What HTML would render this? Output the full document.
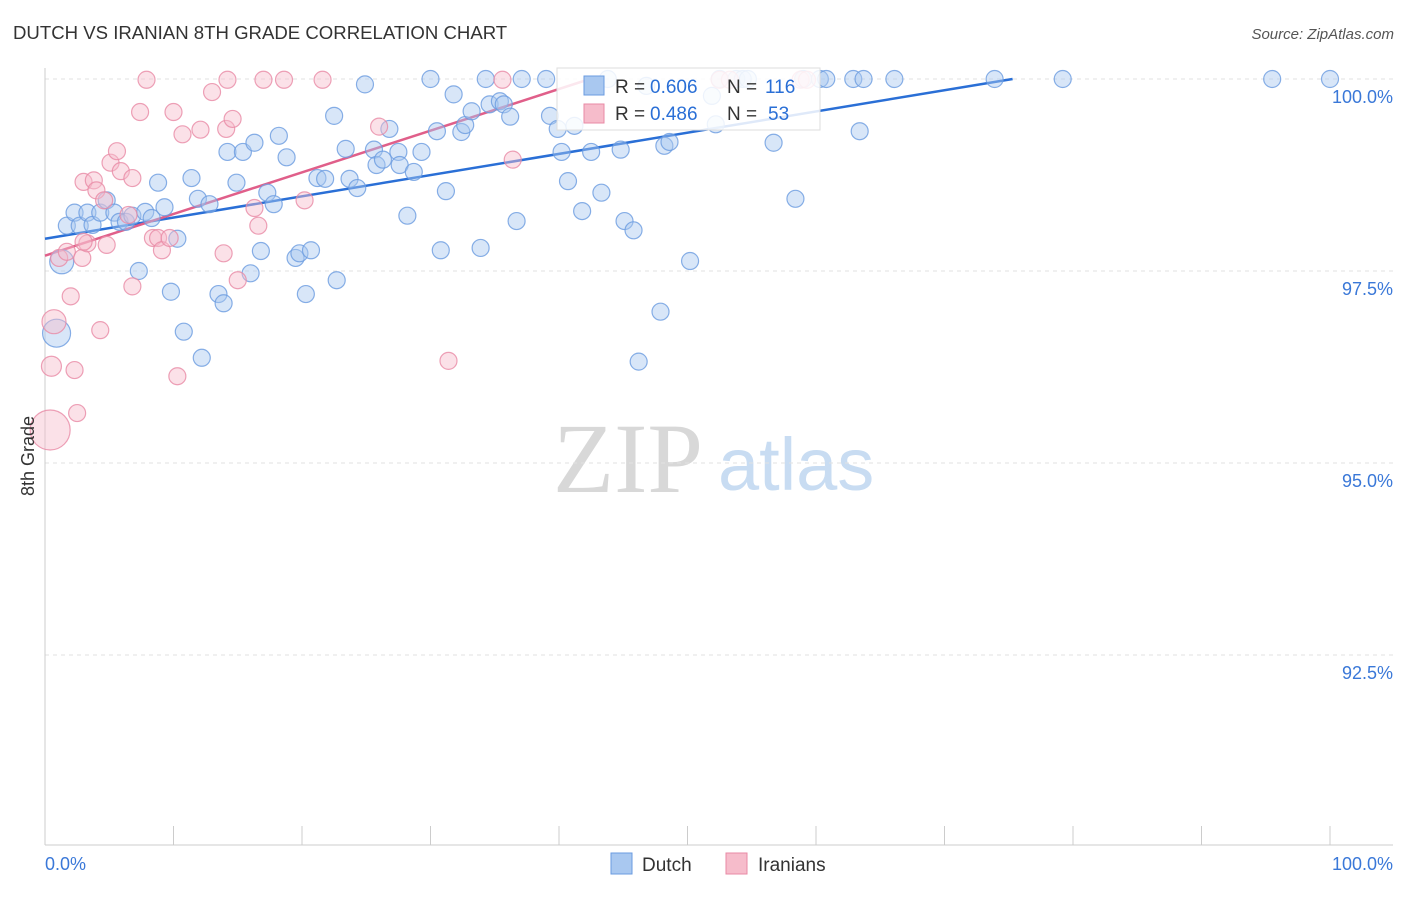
<!DOCTYPE html>
<html><head><meta charset="utf-8"><style>
body{margin:0;background:#fff;font-family:"Liberation Sans",sans-serif;}
svg text{font-family:"Liberation Sans",sans-serif;}
</style></head><body>
<svg id="chart" width="1406" height="892" xmlns="http://www.w3.org/2000/svg">
<text x="13" y="39" font-size="18.6" fill="#333">DUTCH VS IRANIAN 8TH GRADE CORRELATION CHART</text>
<text x="1394" y="39" font-size="15" fill="#555" text-anchor="end" font-style="italic">Source: ZipAtlas.com</text>
<g>
<text x="553" y="492" font-size="100" fill="#d8d8d8" style="font-family:'Liberation Serif',serif">ZIP</text>
<text x="718" y="490" font-size="74" fill="#c8dcf2">atlas</text>
</g>
<g id="grid"></g>
<g id="axes"></g>
<g id="trends"></g>
<g id="points"></g>
<g>
<rect x="557" y="68" width="263" height="62" fill="#fff" fill-opacity="0.85" stroke="#ddd"/>
<rect x="584" y="76" width="20" height="19" fill="#a9c8f0" stroke="#6a9be0"/>
<text x="615" y="93" font-size="19" fill="#333">R = </text><text x="650" y="93" font-size="19" fill="#2a6fd6">0.606</text>
<text x="727" y="93" font-size="19" fill="#333">N = </text><text x="765" y="93" font-size="19" fill="#2a6fd6">116</text>
<rect x="584" y="104" width="20" height="19" fill="#f6bccb" stroke="#e88aa5"/>
<text x="615" y="120" font-size="19" fill="#333">R = </text><text x="650" y="120" font-size="19" fill="#2a6fd6">0.486</text>
<text x="727" y="120" font-size="19" fill="#333">N = </text><text x="768" y="120" font-size="19" fill="#2a6fd6">53</text>
</g>
<g>
<rect x="611" y="853" width="21" height="21" fill="#a9c8f0" stroke="#6a9be0"/>
<text x="642" y="871" font-size="19" fill="#333">Dutch</text></g>
<g>
<rect x="726" y="853" width="21" height="21" fill="#f6bccb" stroke="#e88aa5"/>
<text x="758" y="871" font-size="19" fill="#333">Iranians</text></g>
<text transform="translate(34,456) rotate(-90)" font-size="18" fill="#333" text-anchor="middle">8th Grade</text>
</svg>
<script>
const yTicks=[100,97.5,95,92.5];
const yTickLabels=["100.0%","97.5%","95.0%","92.5%"];
const xTickLabels=["0.0%","100.0%"];
const dutchX=[1.3,0.9,1.7,2.3,2.7,3.3,3.7,4.3,4.8,5.4,5.8,6.3,6.8,7.3,7.8,8.3,8.8,9.3,9.8,10.3,10.8,11.4,11.9,12.2,12.8,13.5,13.9,14.2,14.9,15.4,16.0,16.3,16.8,17.3,17.8,18.2,18.8,19.5,19.8,20.3,20.7,21.2,21.8,22.5,22.7,23.4,23.7,24.3,24.9,25.6,25.8,26.3,26.8,27.5,27.6,28.2,28.7,29.3,30.0,30.5,30.8,31.2,31.8,32.4,32.7,33.2,33.9,34.3,34.6,35.4,35.7,36.2,36.7,37.1,39.0,39.3,39.9,40.2,40.7,41.2,41.8,42.5,43.3,43.8,44.8,45.1,45.8,46.8,47.9,48.2,48.6,50.2,51.9,52.2,52.5,53.8,54.3,54.7,56.7,58.4,59.0,60.3,60.8,62.9,63.4,63.7,66.1,73.9,79.2,95.5,100,46.2];
const dutchY=[97.62,96.69,98.09,98.26,98.09,98.26,98.10,98.26,98.42,98.26,98.14,98.14,98.22,97.50,98.27,98.19,98.65,98.33,97.23,97.92,96.71,98.71,98.44,96.37,98.37,97.20,97.08,99.05,98.65,99.05,97.47,99.17,97.76,98.52,98.37,99.26,98.98,97.67,97.73,97.20,97.77,98.71,98.70,99.52,97.38,99.09,98.70,98.58,99.93,99.08,98.88,98.95,99.35,99.05,98.88,98.22,98.79,99.05,100,99.32,97.77,98.54,99.80,99.31,99.40,99.58,97.80,100,99.67,99.71,99.67,99.51,98.15,100,100,99.52,99.35,99.05,98.67,99.39,98.28,99.05,98.52,100,99.08,98.15,98.03,99.91,96.97,99.13,99.18,97.63,99.78,99.41,100,100,100,100,99.17,98.44,100,100,100,100,99.32,100,100,100,100,100,100,96.32];
const dutchSize=[12,14];
const iranX=[0.7,0.4,0.5,1.1,1.7,2.0,2.3,2.5,2.9,3.0,3.3,3.8,4.0,4.3,4.6,4.8,5.1,5.6,5.9,6.5,6.8,6.8,7.4,7.9,8.4,8.8,9.1,9.7,10.0,10.3,10.7,12.1,13.0,13.9,14.1,14.2,14.6,15.0,16.3,16.6,17.0,18.6,20.2,21.6,26.0,31.4,35.6,36.4,52.5,53.3,58.8,59.3,3.0];
const iranY=[96.84,95.43,96.26,97.67,97.75,97.17,96.21,95.65,97.67,98.66,97.86,98.68,98.55,96.73,98.42,97.84,98.91,99.06,98.80,98.23,98.71,97.30,99.57,99.99,97.93,97.93,97.77,97.93,99.57,96.13,99.28,99.34,99.83,97.73,99.35,99.99,99.48,97.38,98.32,98.09,99.99,99.99,98.42,99.99,99.38,96.33,99.99,98.95,99.99,99.99,99.99,99.99,97.88];
const iranSize=[12,20,10];
const dutchTrend=[[0,97.92],[75.3,100]];
const iranTrend=[[0,97.70],[42.4,100]];

const NS="http://www.w3.org/2000/svg";
const X0=45,X1=1330,Ytop=79,pxPerPct=76.8;
function sx(v){return X0+(X1-X0)*v/100;}
function sy(v){return Ytop+(100-v)*pxPerPct;}
function mk(tag,attrs,parent){const e=document.createElementNS(NS,tag);for(const k in attrs)e.setAttribute(k,attrs[k]);parent.appendChild(e);return e;}
const grid=document.getElementById('grid'),axes=document.getElementById('axes');
yTicks.forEach((t,i)=>{
 const l=mk('line',{x1:45,x2:1393,y1:sy(t),y2:sy(t),stroke:'#e2e2e2','stroke-dasharray':'4,4'},grid);
 
 
 const tx=mk('text',{x:1393,y:sy(t)+24,'font-size':18,fill:'#3a78d8','text-anchor':'end'},axes);
 tx.textContent=yTickLabels[i];
 
 
});
const yl=mk('line',{x1:45,x2:45,y1:68,y2:845,stroke:'#ccc'},axes);


const xl=mk('line',{x1:45,x2:1393,y1:845,y2:845,stroke:'#ccc'},axes);


for(let i=0;i<=10;i++){
 const t=mk('line',{x1:sx(i*10),x2:sx(i*10),y1:826,y2:845,stroke:'#ccc'},axes);
 
 
}
[[0,'start',45],[100,'end',1393]].forEach((a,i)=>{
 const tx=mk('text',{x:a[2],y:870,'font-size':18,fill:'#3a78d8','text-anchor':a[1]},axes);
 tx.textContent=xTickLabels[i];
 
 
});
const pts=document.getElementById('points');
function drawSeries(xs,ys,sizes,fill,stroke,name){
 xs.forEach((x,i)=>{
  const r=sizes[i]||8.5;
  const c=mk('circle',{cx:sx(x),cy:sy(ys[i]),r:r,fill:fill,'fill-opacity':0.45,stroke:stroke,'stroke-opacity':0.8,'stroke-width':1.2},pts);
  
  
 });
}
drawSeries(dutchX,dutchY,dutchSize,'#a9c8f0','#6a9be0','dutch-point');
drawSeries(iranX,iranY,iranSize,'#f6bccb','#e88aa5','iranian-point');
const tr=document.getElementById('trends');
const l1=mk('line',{x1:sx(dutchTrend[0][0]),y1:sy(dutchTrend[0][1]),x2:sx(dutchTrend[1][0]),y2:sy(dutchTrend[1][1]),stroke:'#2a6fd6','stroke-width':2.5},tr);


const l2=mk('line',{x1:sx(iranTrend[0][0]),y1:sy(iranTrend[0][1]),x2:sx(iranTrend[1][0]),y2:sy(iranTrend[1][1]),stroke:'#e05f8a','stroke-width':2.5},tr);


</script>
</body></html>
